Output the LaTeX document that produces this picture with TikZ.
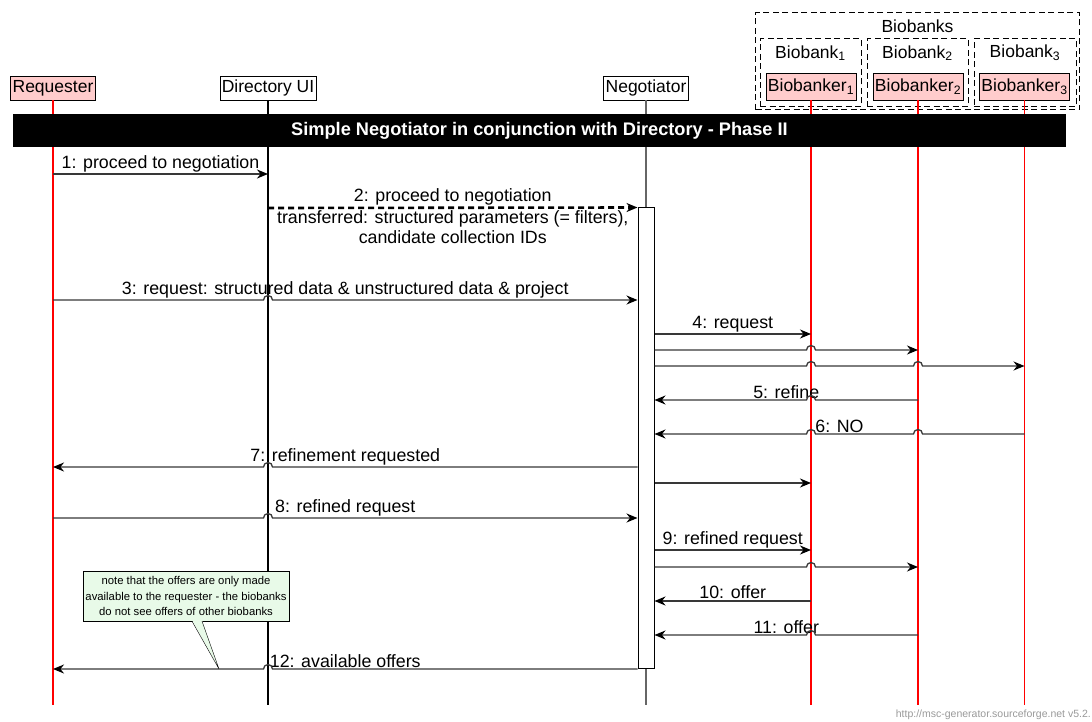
\documentclass[tikz,border=0pt]{standalone}
\usepackage{fontspec}
\setmainfont{Liberation Sans}
\usepackage{tikz}
\definecolor{actorpink}{RGB}{255,204,204}
\definecolor{notegreen}{RGB}{232,250,232}
\tikzset{
  actor/.style    = {shape=rectangle, draw, fill=white, inner sep=2pt,
                     minimum height=24, font=\fontsize{17.5}{20}\selectfont},
  redactor/.style = {actor, fill=actorpink},
  banker/.style   = {redactor, minimum height=27},
  group/.style    = {draw, dash pattern=on 6pt off 3.5pt, line width=1pt},
  grouplbl/.style = {font=\fontsize{17.5}{20}\selectfont},
  life/.style     = {line width=1.2pt},
  redlife/.style  = {life, red},
  msg/.style      = {draw=black!78, line width=1.3pt,
                     -{Stealth[black, length=11pt, width=9pt, inset=3.5pt]}},
  lbl/.style      = {font=\fontsize{17.8}{20}\selectfont, inner sep=1.5pt},
  titlebar/.style = {fill=black, text=white, minimum width=1053, minimum height=33,
                     font=\fontsize{18.2}{20}\selectfont\bfseries},
  note/.style     = {draw, fill=notegreen, align=center, inner sep=2pt,
                     minimum width=206, minimum height=50,
                     font=\fontsize{11.3}{15.5}\selectfont}
}
\usetikzlibrary{positioning,arrows.meta}

\begin{document}
\begin{tikzpicture}[x=1pt, y=-1pt]
  \useasboundingbox (0,0) rectangle (1092,722);

  % entities
  \node [redactor] (req) at (53,88) {Requester};
  \node [actor] (dir) at (268,88) {Directory UI};
  \node [actor] (neg) at (646,88) {Negotiator};
  \node [banker] (bbk1) at (811,86.5) {Biobanker\textsubscript{1}};
  \node [banker] (bbk2) at (918,86.5) {Biobanker\textsubscript{2}};
  \node [banker] (bbk3) at (1024.5,86.5) {Biobanker\textsubscript{3}};

  % groups
  \node [group, minimum width=324, minimum height=97] (banks) at (917.5,61.5) {};
  \node [grouplbl] (bankslbl) at (917.5,26) {Biobanks};
  \node [group, minimum width=101, minimum height=68] (bank1) at (810.5,73) {};
  \node [group, minimum width=101, minimum height=68] (bank2) at (917.5,73) {};
  \node [group, minimum width=102, minimum height=68] (bank3) at (1025,73) {};
  \node [grouplbl] (bank1lbl) at (810.5,53) {Biobank\textsubscript{1}};
  \node [grouplbl] (bank2lbl) at (917.5,53) {Biobank\textsubscript{2}};
  \node [grouplbl] (bank3lbl) at (1025,53) {Biobank\textsubscript{3}};

  % lifelines
  \draw [redlife] (req.south) -- (req.south |- 0,705);
  \draw [life] (dir.south) -- (dir.south |- 0,705);
  \draw [life, black!60] (neg.south) -- (neg.south |- 0,705);
  \draw [redlife] (bbk1.south) -- (bbk1.south |- 0,705);
  \draw [redlife] (bbk2.south) -- (bbk2.south |- 0,705);
  \draw [redlife] (bbk3.south) -- (bbk3.south |- 0,705);

  \node [titlebar] (title) at (539.5,131)
    {Simple Negotiator in conjunction with Directory - Phase II};

  \node [draw, line width=1pt, fill=white, minimum width=16, minimum height=460,
         inner sep=0pt] (act) at (646,438) {};

  % messages
  \draw [msg] (req |- 0,174) -- (dir |- 0,174)
    node [lbl, midway, above] {1: proceed to negotiation};
  \draw [msg, draw=black, line width=2.6pt, dash pattern=on 6pt off 4pt] (dir |- 0,208) -- (act.north west)
    node [lbl, midway, above] {2: proceed to negotiation}
    node [lbl, midway, below, align=center]
      {transferred: structured parameters (= filters),\\candidate collection IDs};

  \path (req |- 0,300) -- (act.west |- 0,300)
    node [lbl, midway, above] {3: request: structured data \& unstructured data \& project};
  \draw [msg] (req |- 0,300) -- ([xshift=-4.5pt]dir |- 0,300)
    arc [start angle=180, end angle=0, radius=4.5pt] -- (act.west |- 0,300);

  \draw [msg] (act.east |- 0,334) -- (bbk1 |- 0,334)
    node [lbl, midway, above] {4: request};
  \draw [msg] (act.east |- 0,350) -- ([xshift=-4.5pt]bbk1 |- 0,350)
    arc [start angle=180, end angle=0, radius=4.5pt] -- (bbk2 |- 0,350);
  \draw [msg] (act.east |- 0,366) -- ([xshift=-4.5pt]bbk1 |- 0,366)
    arc [start angle=180, end angle=0, radius=4.5pt] -- ([xshift=-4.5pt]bbk2 |- 0,366)
    arc [start angle=180, end angle=0, radius=4.5pt] -- (bbk3 |- 0,366);

  \path (bbk2 |- 0,400) -- (act.east |- 0,400)
    node [lbl, midway, above] {5: refine};
  \draw [msg] (bbk2 |- 0,400) -- ([xshift=4.5pt]bbk1 |- 0,400)
    arc [start angle=0, end angle=180, radius=4.5pt] -- (act.east |- 0,400);
  \path (bbk3 |- 0,434) -- (act.east |- 0,434)
    node [lbl, midway, above] {6: NO};
  \draw [msg] (bbk3 |- 0,434) -- ([xshift=4.5pt]bbk2 |- 0,434)
    arc [start angle=0, end angle=180, radius=4.5pt] -- ([xshift=4.5pt]bbk1 |- 0,434)
    arc [start angle=0, end angle=180, radius=4.5pt] -- (act.east |- 0,434);

  \path (act.west |- 0,467) -- (req |- 0,467)
    node [lbl, midway, above] {7: refinement requested};
  \draw [msg] (act.west |- 0,467) -- ([xshift=4.5pt]dir |- 0,467)
    arc [start angle=0, end angle=180, radius=4.5pt] -- (req |- 0,467);

  \draw [msg] (act.east |- 0,483) -- (bbk1 |- 0,483);

  \path (req |- 0,518) -- (act.west |- 0,518)
    node [lbl, midway, above] {8: refined request};
  \draw [msg] (req |- 0,518) -- ([xshift=-4.5pt]dir |- 0,518)
    arc [start angle=180, end angle=0, radius=4.5pt] -- (act.west |- 0,518);

  \draw [msg] (act.east |- 0,550) -- (bbk1 |- 0,550)
    node [lbl, midway, above] {9: refined request};
  \draw [msg] (act.east |- 0,567) -- ([xshift=-4.5pt]bbk1 |- 0,567)
    arc [start angle=180, end angle=0, radius=4.5pt] -- (bbk2 |- 0,567);

  \draw [msg] (bbk1 |- 0,601) -- (act.east |- 0,601)
    node [lbl, midway, above] {10: offer};
  \path (bbk2 |- 0,635) -- (act.east |- 0,635)
    node [lbl, midway, above] {11: offer};
  \draw [msg] (bbk2 |- 0,635) -- ([xshift=4.5pt]bbk1 |- 0,635)
    arc [start angle=0, end angle=180, radius=4.5pt] -- (act.east |- 0,635);

  \path (act.west |- 0,669) -- (req |- 0,669)
    node [lbl, midway, above] {12: available offers};
  \draw [msg] (act.west |- 0,669) -- ([xshift=4.5pt]dir |- 0,669)
    arc [start angle=0, end angle=180, radius=4.5pt] -- (req |- 0,669);

  % note
  \node [note] (note) at (186,596)
    {note that the offers are only made\\available to the requester - the biobanks\\do not see offers of other biobanks};
  \coordinate (notetip) at (219,669);
  \fill [notegreen] ([xshift=6pt,yshift=1pt]note.south) -- (notetip)
    -- ([xshift=16pt,yshift=1pt]note.south) -- cycle;
  \draw ([xshift=6pt]note.south) -- (notetip) -- ([xshift=16pt]note.south);

  \node [anchor=south east, inner sep=0pt, text=black!40,
         font=\fontsize{10.5}{12}\selectfont] (credit) at (1091,720)
    {http://msc-generator.sourceforge.net v5.2.};
\end{tikzpicture}
\end{document}
